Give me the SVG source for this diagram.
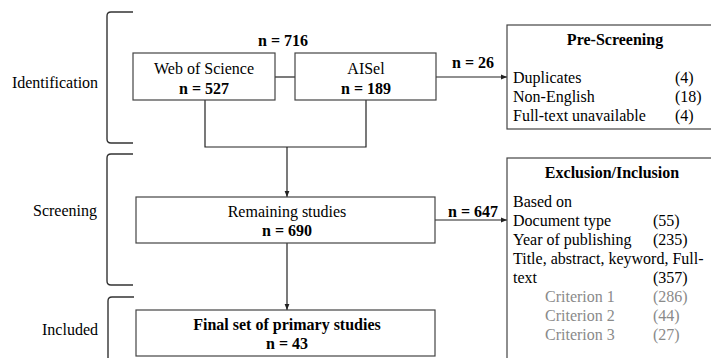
<svg xmlns="http://www.w3.org/2000/svg" width="711" height="358" viewBox="0 0 711 358">
<defs>
<style>
text{font-family:"Liberation Serif","Times New Roman",serif;font-size:16px;fill:#000}
.b{font-weight:bold}
.m{text-anchor:middle}
.g{fill:#8a8a8a}
.box{fill:#fff;stroke:#444;stroke-width:1.2}
.ln{fill:none;stroke:#222;stroke-width:1.2}
.br{fill:none;stroke:#333;stroke-width:1.4}
</style>
<marker id="ah" viewBox="0 0 10 10" refX="10" refY="5" markerWidth="6" markerHeight="6" orient="auto" markerUnits="userSpaceOnUse">
<path d="M0,1 L10,5 L0,9 z" fill="#222"/>
</marker>
</defs>
<rect width="711" height="358" fill="#fff"/>

<g id="phases">
<path class="br" d="M133,12 L111,12 Q107,12 107,16 L107,139 Q107,143 111,143 L133,143"/>
<path class="br" d="M133,154 L111,154 Q107,154 107,158 L107,281 Q107,285 111,285 L133,285"/>
<path class="br" d="M134,297 L112,297 Q108,297 108,301 L108,360"/>
<text x="55" y="88" class="m">Identification</text>
<text x="65" y="216" class="m">Screening</text>
<text x="70" y="335" class="m">Included</text>
</g>

<g id="connectors">
<line class="ln" x1="275" y1="77" x2="295" y2="77"/>
<polyline class="ln" points="205,100 205,147 366,147 366,100"/>
<line class="ln" x1="287" y1="147" x2="287" y2="197" marker-end="url(#ah)"/>
<line class="ln" x1="287" y1="243" x2="287" y2="310" marker-end="url(#ah)"/>
<line class="ln" x1="436" y1="77" x2="507" y2="77" marker-end="url(#ah)"/>
<line class="ln" x1="435" y1="220" x2="507" y2="220" marker-end="url(#ah)"/>
<text x="283" y="46" class="m b">n = 716</text>
<text x="473" y="68" class="m b">n = 26</text>
<text x="473" y="217" class="m b">n = 647</text>
</g>

<g id="wos">
<rect class="box" x="133" y="53" width="142" height="47"/>
<text x="204" y="74" class="m">Web of Science</text>
<text x="204" y="94" class="m b">n = 527</text>
</g>

<g id="aisel">
<rect class="box" x="295" y="53" width="141" height="47"/>
<text x="366" y="74" class="m">AISel</text>
<text x="366" y="94" class="m b">n = 189</text>
</g>

<g id="remaining">
<rect class="box" x="136" y="197" width="299" height="46"/>
<text x="287" y="217" class="m">Remaining studies</text>
<text x="287" y="236" class="m b">n = 690</text>
</g>

<g id="final">
<rect class="box" x="136" y="310" width="299" height="46"/>
<text x="287" y="330" class="m b">Final set of primary studies</text>
<text x="287" y="349" class="m b">n = 43</text>
</g>

<g id="prescreening">
<rect class="box" x="507" y="25" width="210" height="104"/>
<text x="615" y="45" class="m b">Pre-Screening</text>
<text x="513" y="83">Duplicates</text><text x="675" y="83">(4)</text>
<text x="513" y="102">Non-English</text><text x="675" y="102">(18)</text>
<text x="513" y="121">Full-text unavailable</text><text x="675" y="121">(4)</text>
</g>

<g id="exclusion">
<rect class="box" x="507" y="158" width="210" height="210"/>
<text x="612" y="178" class="m b">Exclusion/Inclusion</text>
<text x="513" y="207">Based on</text>
<text x="513" y="226">Document type</text><text x="653" y="226">(55)</text>
<text x="513" y="245">Year of publishing</text><text x="653" y="245">(235)</text>
<text x="513" y="264">Title, abstract, keyword, Full-</text>
<text x="513" y="283">text</text><text x="653" y="283">(357)</text>
<text x="545" y="302" class="g">Criterion 1</text><text x="653" y="302" class="g">(286)</text>
<text x="545" y="321" class="g">Criterion 2</text><text x="653" y="321" class="g">(44)</text>
<text x="545" y="340" class="g">Criterion 3</text><text x="653" y="340" class="g">(27)</text>
</g>
</svg>
